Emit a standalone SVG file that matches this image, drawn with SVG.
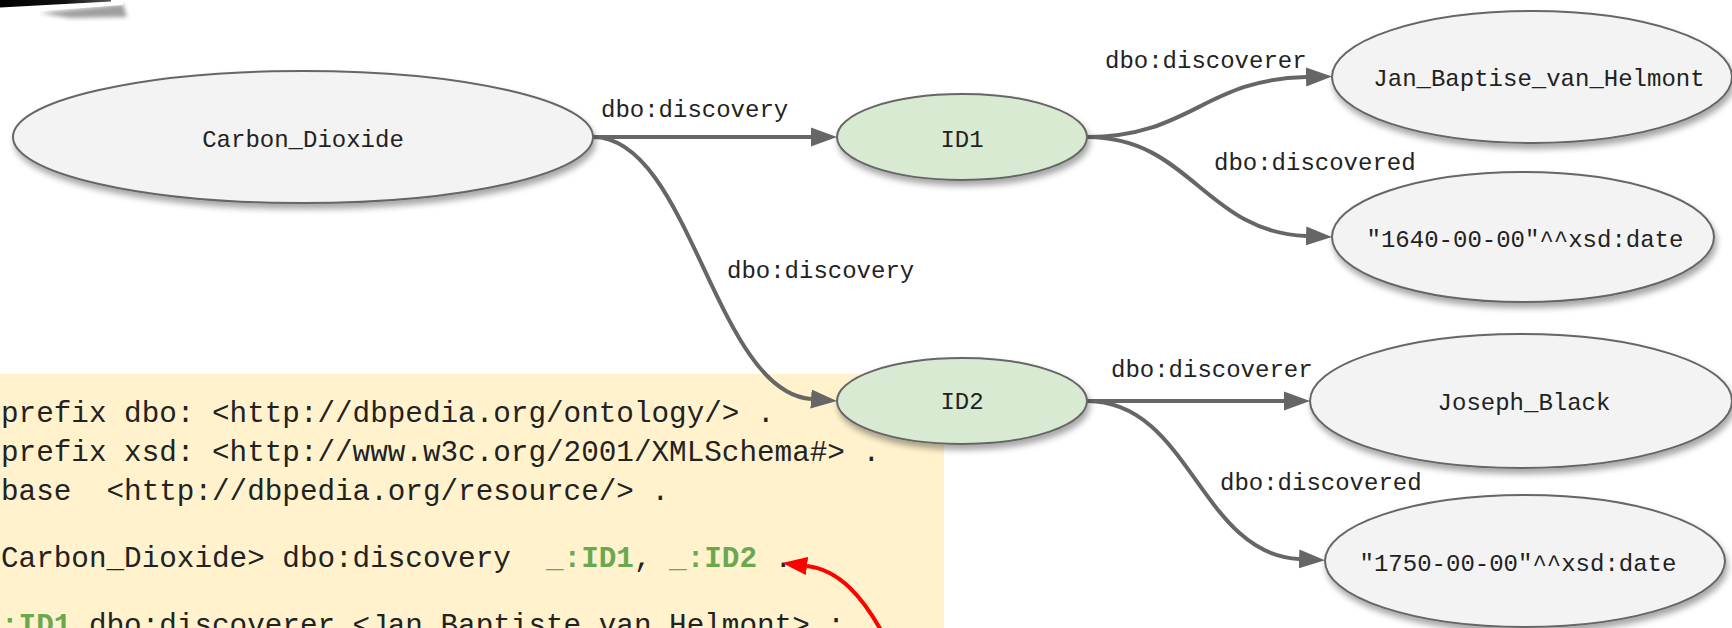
<svg xmlns="http://www.w3.org/2000/svg" width="1732" height="628" viewBox="0 0 1732 628">
<defs>
<filter id="sh" x="-10%" y="-20%" width="120%" height="150%">
<feDropShadow dx="2" dy="5" stdDeviation="3" flood-color="#000" flood-opacity="0.35"/>
</filter>
<filter id="blur" x="-20%" y="-100%" width="140%" height="300%">
<feGaussianBlur stdDeviation="2"/>
</filter>
<linearGradient id="blk" x1="0" y1="0" x2="1" y2="0">
<stop offset="0" stop-color="#000"/>
<stop offset="0.6" stop-color="#111"/>
<stop offset="1" stop-color="#555"/>
</linearGradient>
<marker id="ah" markerUnits="userSpaceOnUse" markerWidth="27" markerHeight="20" refX="0" refY="10" orient="auto" viewBox="0 0 27 20">
<path d="M0,0.5 L26,10 L0,19.5 z" fill="#666"/>
</marker>
<marker id="rh" markerUnits="userSpaceOnUse" markerWidth="26" markerHeight="19" refX="0" refY="9.5" orient="auto" viewBox="0 0 26 19">
<path d="M0,0.5 L25,9.5 L0,18.5 z" fill="#f00"/>
</marker>
<style>
.n ellipse{stroke:#666;stroke-width:2;filter:url(#sh)}
.g ellipse{fill:#f3f3f3}
.t ellipse{fill:#d9ead3}
.n text{font-family:"Liberation Mono","Courier New",monospace;font-size:24px;fill:#222;text-anchor:middle}
.lbl{font-family:"Liberation Mono","Courier New",monospace;font-size:24px;fill:#222}
.e{fill:none;stroke:#666;stroke-width:4;marker-end:url(#ah)}
.code{font-family:"Liberation Mono","Courier New",monospace;font-size:29.3px;fill:#222;white-space:pre}
.gr{fill:#6aa84f;font-weight:bold}
</style>
</defs>
<rect width="1732" height="628" fill="#fff"/>

<g id="photo">
<polygon points="40,13 123,4 127,17 70,18" fill="#777" filter="url(#blur)" opacity="0.7"/>
<polygon points="0,0 123,0 123,5 0,14" fill="#fff"/>
<polygon points="0,0 111,0 111,1.5 0,7.5" fill="url(#blk)"/>
</g>

<g id="code">
<rect x="0" y="374" width="944" height="254" fill="#fff2cc"/>
<text class="code" x="1" y="422" xml:space="preserve">prefix dbo: &lt;http://dbpedia.org/ontology/&gt; .</text>
<text class="code" x="1" y="461" xml:space="preserve">prefix xsd: &lt;http://www.w3c.org/2001/XMLSchema#&gt; .</text>
<text class="code" x="1" y="500" xml:space="preserve">base  &lt;http://dbpedia.org/resource/&gt; .</text>
<text class="code" x="1" y="567" xml:space="preserve">Carbon_Dioxide&gt; dbo:discovery  <tspan class="gr">_:ID1</tspan>, <tspan class="gr">_:ID2</tspan> .</text>
<text class="code" x="1" y="634" xml:space="preserve"><tspan class="gr">:ID1</tspan> dbo:discoverer &lt;Jan_Baptiste_van_Helmont&gt; ;</text>
</g>

<g id="connectors">
<path class="e" d="M593,137 L811,137"/>
<path class="e" d="M593,137 C690,137 715,392 811,399"/>
<path class="e" d="M1087,137 C1190,137 1205,79 1306,77"/>
<path class="e" d="M1087,137 C1190,137 1205,232 1306,236"/>
<path class="e" d="M1087,401 L1284,401"/>
<path class="e" d="M1087,401 C1190,401 1200,554 1299,559"/>
<text class="lbl" x="601" y="117">dbo:discovery</text>
<text class="lbl" x="727" y="278">dbo:discovery</text>
<text class="lbl" x="1105" y="68">dbo:discoverer</text>
<text class="lbl" x="1214" y="170">dbo:discovered</text>
<text class="lbl" x="1111" y="377">dbo:discoverer</text>
<text class="lbl" x="1220" y="490">dbo:discovered</text>
<path d="M882,632 C863,598 840,570 807,566" fill="none" stroke="#f00" stroke-width="4" marker-end="url(#rh)"/>
</g>

<g id="n-carbon" class="n g">
<ellipse cx="303" cy="137" rx="290" ry="66"/>
<text x="303" y="147">Carbon_Dioxide</text>
</g>
<g id="n-id1" class="n t">
<ellipse cx="962" cy="137" rx="125" ry="43"/>
<text x="962" y="147">ID1</text>
</g>
<g id="n-id2" class="n t">
<ellipse cx="962" cy="401" rx="125" ry="43"/>
<text x="962" y="409">ID2</text>
</g>
<g id="n-jan" class="n g">
<ellipse cx="1532" cy="77" rx="200" ry="66"/>
<text x="1539" y="86">Jan_Baptise_van_Helmont</text>
</g>
<g id="n-1640" class="n g">
<ellipse cx="1523" cy="237" rx="191" ry="65"/>
<text x="1525" y="247">"1640-00-00"^^xsd:date</text>
</g>
<g id="n-joseph" class="n g">
<ellipse cx="1521" cy="401" rx="211" ry="67"/>
<text x="1524" y="410">Joseph_Black</text>
</g>
<g id="n-1750" class="n g">
<ellipse cx="1525" cy="561" rx="200" ry="66"/>
<text x="1518" y="571">"1750-00-00"^^xsd:date</text>
</g>
</svg>
